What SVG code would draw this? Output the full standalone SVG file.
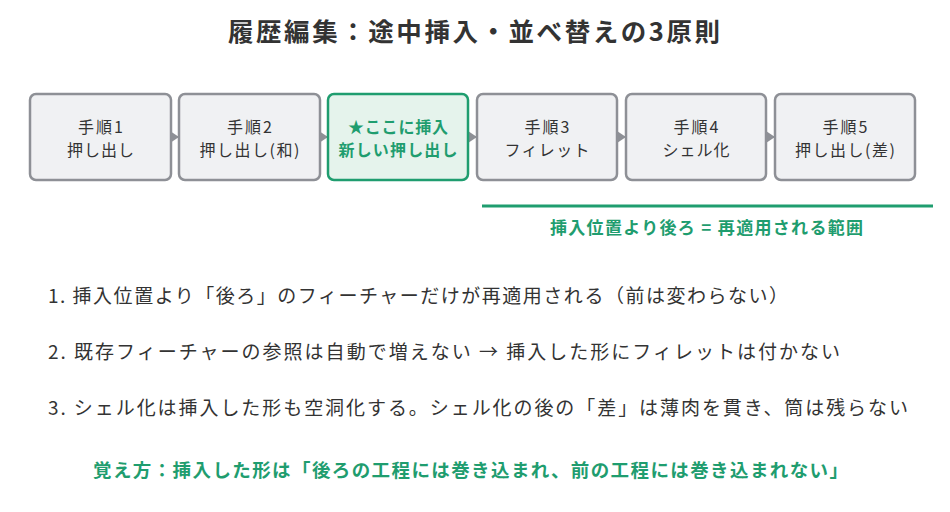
<svg xmlns="http://www.w3.org/2000/svg" width="950" height="512" viewBox="0 0 950 512">
<style>
text{font-family:"Noto Sans CJK JP","Noto Sans",sans-serif;}
.box{fill:#f0f1f3;stroke:#8e9096;stroke-width:2.5;}
.hi{fill:#e5f3ec;stroke:#1f9d6f;stroke-width:2.5;}
.lbl{font-size:16px;fill:#333;text-anchor:middle;}
.hil{font-size:16px;fill:#1f9d6f;text-anchor:middle;font-weight:bold;}
.item{font-size:19px;fill:#333;}
.conn{stroke:#8e9096;stroke-width:2;fill:none;}
</style>
<defs>
<marker id="ah" viewBox="0 0 9 12" refX="9" refY="6" markerWidth="9" markerHeight="12" markerUnits="userSpaceOnUse" orient="auto">
<path d="M0,0 L9,6 L0,12 Z" fill="#8e9096"/>
</marker>
</defs>
<rect width="950" height="512" fill="#ffffff"/>
<text x="474" y="41" text-anchor="middle" font-size="25.5" font-weight="bold" fill="#333" textLength="492" lengthAdjust="spacing">履歴編集：途中挿入・並べ替えの3原則</text>
<g id="connectors">
<line class="conn" x1="168" y1="137" x2="179" y2="137" marker-end="url(#ah)"/>
<line class="conn" x1="317" y1="137" x2="328" y2="137" marker-end="url(#ah)"/>
<line class="conn" x1="466" y1="137" x2="477" y2="137" marker-end="url(#ah)"/>
<line class="conn" x1="615" y1="137" x2="626" y2="137" marker-end="url(#ah)"/>
<line class="conn" x1="764" y1="137" x2="775" y2="137" marker-end="url(#ah)"/>
</g>
<g id="n1"><rect class="box" x="30" y="94" width="141" height="86" rx="6"/><text class="lbl" x="100.5" y="133" textLength="45" lengthAdjust="spacing">手順1</text><text class="lbl" x="100.5" y="155.5" textLength="67" lengthAdjust="spacing">押し出し</text></g>
<g id="n2"><rect class="box" x="179" y="94" width="141" height="86" rx="6"/><text class="lbl" x="249.5" y="133" textLength="45" lengthAdjust="spacing">手順2</text><text class="lbl" x="249.5" y="155.5" textLength="100" lengthAdjust="spacing">押し出し(和)</text></g>
<g id="n3"><rect class="hi" x="328" y="94" width="140" height="86" rx="6"/><text class="hil" x="398" y="133" textLength="100" lengthAdjust="spacing">★ここに挿入</text><text class="hil" x="398" y="155.5" textLength="119" lengthAdjust="spacing">新しい押し出し</text></g>
<g id="n4"><rect class="box" x="477" y="94" width="140" height="86" rx="6"/><text class="lbl" x="547" y="133" textLength="45" lengthAdjust="spacing">手順3</text><text class="lbl" x="547" y="155.5" textLength="85" lengthAdjust="spacing">フィレット</text></g>
<g id="n5"><rect class="box" x="626" y="94" width="140" height="86" rx="6"/><text class="lbl" x="696" y="133" textLength="45" lengthAdjust="spacing">手順4</text><text class="lbl" x="696" y="155.5" textLength="67" lengthAdjust="spacing">シェル化</text></g>
<g id="n6"><rect class="box" x="775" y="94" width="140" height="86" rx="6"/><text class="lbl" x="845" y="133" textLength="45" lengthAdjust="spacing">手順5</text><text class="lbl" x="845" y="155.5" textLength="100" lengthAdjust="spacing">押し出し(差)</text></g>
<g id="range">
<line x1="482" y1="206" x2="933" y2="206" stroke="#1f9d6f" stroke-width="3"/>
<text x="706.5" y="234" text-anchor="middle" font-size="17" font-weight="bold" fill="#1f9d6f" textLength="313" lengthAdjust="spacing">挿入位置より後ろ = 再適用される範囲</text>
</g>
<text class="item" x="48" y="303" textLength="740" lengthAdjust="spacing">1. 挿入位置より「後ろ」のフィーチャーだけが再適用される（前は変わらない）</text>
<text class="item" x="48" y="359" textLength="792" lengthAdjust="spacing">2. 既存フィーチャーの参照は自動で増えない → 挿入した形にフィレットは付かない</text>
<text class="item" x="48" y="415" textLength="860" lengthAdjust="spacing">3. シェル化は挿入した形も空洞化する。シェル化の後の「差」は薄肉を貫き、筒は残らない</text>
<text x="470.5" y="477" text-anchor="middle" font-size="18.5" font-weight="bold" fill="#1f9d6f" textLength="755" lengthAdjust="spacing">覚え方：挿入した形は「後ろの工程には巻き込まれ、前の工程には巻き込まれない」</text>
</svg>
